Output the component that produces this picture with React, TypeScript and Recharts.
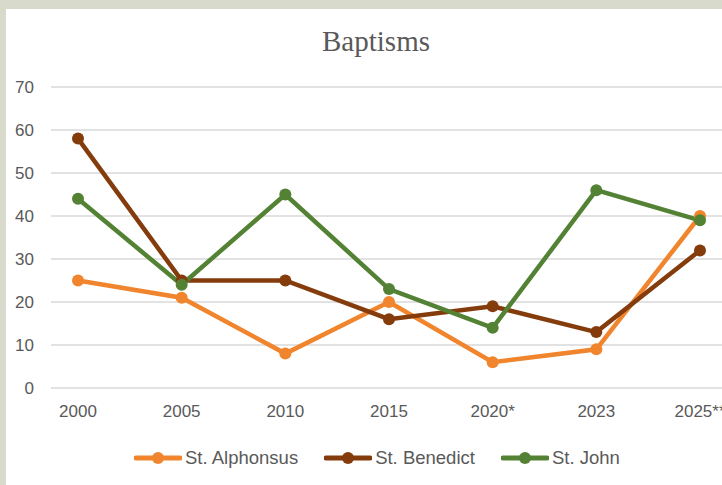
import { LineChart, Line, CartesianGrid, XAxis, YAxis, Legend } from 'recharts';

const years = ['2000', '2005', '2010', '2015', '2020*', '2023', '2025**'];
const alphonsus = [25, 21, 8, 20, 6, 9, 40];
const benedict = [58, 25, 25, 16, 19, 13, 32];
const john = [44, 24, 45, 23, 14, 46, 39];
const yTicks = [0, 10, 20, 30, 40, 50, 60, 70];

const series = [
    { key: 'alphonsus', name: 'St. Alphonsus', color: '#F0852D' },
    { key: 'benedict', name: 'St. Benedict', color: '#843C0C' },
    { key: 'john', name: 'St. John', color: '#548235' },
];

const rows = years.map((y, i) => ({
    year: y,
    alphonsus: alphonsus[i],
    benedict: benedict[i],
    john: john[i],
}));

function LegendBox() {
    return (
        <div style={{ display: 'flex', alignItems: 'center', fontFamily: 'Liberation Sans, Arial, sans-serif', fontSize: 18.5, color: '#595959' }}>
            {series.map(s => (
                <div key={s.key} style={{ display: 'flex', alignItems: 'center', marginRight: 26 }}>
                    <svg width={48} height={14} style={{ marginRight: 3 }}>
                        <line x1={2} y1={7} x2={46} y2={7} stroke={s.color} strokeWidth={5} strokeLinecap="round" />
                        <circle cx={24} cy={7} r={6} fill={s.color} />
                    </svg>
                    <span>{s.name}</span>
                </div>
            ))}
        </div>
    );
}

export default function App() {
    return (
        <div style={{ position: 'absolute', left: 0, top: 0, width: 722, height: 485, overflow: 'hidden', background: '#d8dbcb' }}>
            <div style={{ position: 'absolute', left: 6, top: 9, width: 760, height: 500, background: '#ffffff' }} />
            <div style={{ position: 'absolute', left: 0, top: 25, width: 752, textAlign: 'center', fontFamily: 'Liberation Serif, serif', fontSize: 29, color: '#595959' }}>
                Baptisms
            </div>
            <div style={{ position: 'absolute', left: 0, top: 0 }}>
                <LineChart width={760} height={485} data={rows} margin={{ top: 87, right: 20, left: 0, bottom: 67 }}>
                    <CartesianGrid vertical={false} stroke="#d9d9d9" strokeWidth={1.5} />
                    <XAxis
                        dataKey="year"
                        axisLine={false}
                        tickLine={false}
                        tickSize={0}
                        tickMargin={17}
                        height={30}
                        padding={{ left: 27, right: 40 }}
                        tick={{ fontSize: 17, fill: '#595959', fontFamily: 'Liberation Sans, Arial, sans-serif' }}
                    />
                    <YAxis
                        domain={[0, 70]}
                        ticks={yTicks}
                        width={51}
                        axisLine={false}
                        tickLine={false}
                        tickSize={0}
                        tickMargin={17}
                        tick={{ fontSize: 17, fill: '#595959', fontFamily: 'Liberation Sans, Arial, sans-serif' }}
                    />
                    <Legend
                        layout="horizontal"
                        verticalAlign="middle"
                        align="center"
                        content={<LegendBox />}
                        wrapperStyle={{ top: 447, left: 134, width: 620 }}
                    />
                    {series.map(s => (
                        <Line
                            key={s.key}
                            type="linear"
                            dataKey={s.key}
                            name={s.name}
                            stroke={s.color}
                            strokeWidth={4.5}
                            dot={{ r: 6, fill: s.color, stroke: s.color, strokeWidth: 0 }}
                            isAnimationActive={false}
                        />
                    ))}
                </LineChart>
            </div>
        </div>
    );
}
